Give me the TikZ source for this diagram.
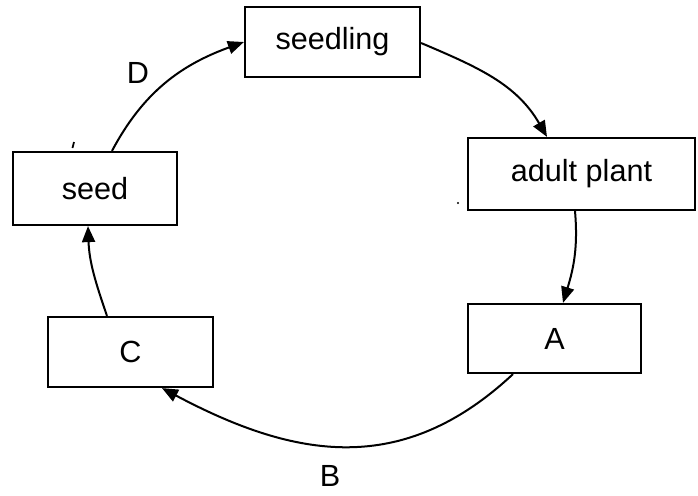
\documentclass[tikz,border=0pt]{standalone}
\usepackage{fontspec}
\setmainfont{Liberation Sans}
\usetikzlibrary{arrows.meta}

\tikzset{
  stagebox/.style={draw=black, line width=1.1pt, fill=white, inner sep=0pt,
    font=\fontsize{15.3}{18}\selectfont},
  cyclearrow/.style={line width=1pt,
    -{Triangle[length=8pt,width=6.5pt]}},
  steplabel/.style={inner sep=0pt, font=\fontsize{15.3}{18}\selectfont}
}

\begin{document}
\begin{tikzpicture}[x=0.5pt,y=0.5pt]
  \useasboundingbox (0,0) rectangle (698,495);

  % stages of the life cycle
  \node[stagebox, minimum width=87.5pt, minimum height=35pt] (seedling) at (332.5,453) {seedling};
  \node[stagebox, minimum width=113.5pt, minimum height=36pt] (adult) at (581.5,321) {adult plant};
  \node[stagebox, minimum width=86.5pt, minimum height=34.5pt] (A) at (554.5,156.5) {A};
  \node[stagebox, minimum width=82.5pt, minimum height=35pt] (C) at (130.5,143) {C};
  \node[stagebox, minimum width=82pt, minimum height=36.5pt] (seed) at (95,306.5) {seed};

  % arrows round the cycle
  \draw[cyclearrow] ([xshift=8.5pt]seed.north) to[out=62, in=200] (seedling.west);
  \draw[cyclearrow] ([yshift=-0.5pt]seedling.east) to[out=-23, in=120] ([xshift=-17.25pt]adult.north);
  \draw[cyclearrow] ([xshift=-3.25pt]adult.south) to[out=-85, in=73] ([xshift=4.25pt]A.north);
  \draw[cyclearrow] ([xshift=-20.75pt]A.south) to[out=223, in=-28, looseness=1.1] ([xshift=15.75pt]C.south);
  \draw[cyclearrow] ([xshift=-11.75pt]C.north) to[out=109, in=-88] ([xshift=-3.5pt]seed.south);

  % step labels
  \node[steplabel] (labelD) at (138,422) {D};
  \node[steplabel] (labelB) at (330,19) {B};

  % small stray marks
  \draw[line width=0.9pt] (72.5,347) -- (74,353);
  \fill (458,292) circle (1.2);
\end{tikzpicture}
\end{document}
